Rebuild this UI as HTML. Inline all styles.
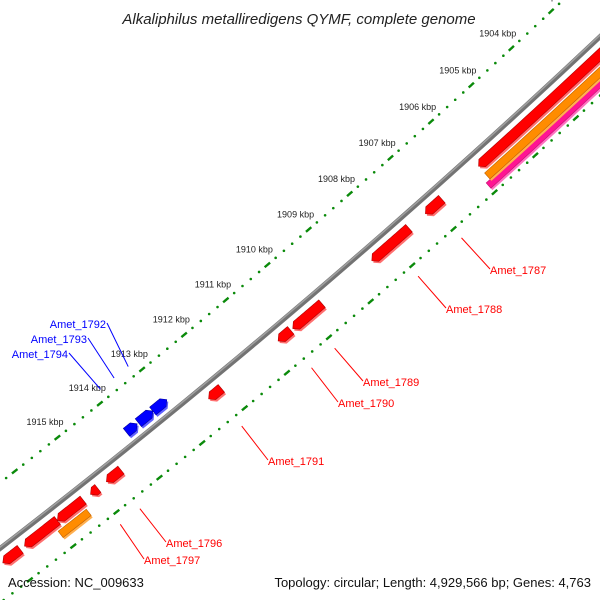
<!DOCTYPE html>
<html><head><meta charset="utf-8"><style>
html,body{margin:0;background:#fff;width:600px;height:600px;overflow:hidden}
svg{display:block;font-family:"Liberation Sans",sans-serif;overflow:hidden}
</style></head><body>
<svg id="map" width="600" height="600" viewBox="0 0 600 600" xmlns="http://www.w3.org/2000/svg">
<defs><clipPath id="frame"><rect x="0" y="0" width="600" height="600"/></clipPath></defs>
<rect x="0" y="0" width="600" height="600" fill="#fff"/>
<g id="layer" clip-path="url(#frame)"></g>
<text x="299" y="24" text-anchor="middle" font-size="15" font-style="italic" fill="#222">Alkaliphilus metalliredigens QYMF, complete genome</text>
<text x="8" y="587" font-size="13" fill="#111">Accession: NC_009633</text>
<text x="591" y="587" text-anchor="end" font-size="13" fill="#111">Topology: circular; Length: 4,929,566 bp; Genes: 4,763</text>
</svg>
<script>
// ---- data ----
const geneNames = ["Amet_1786","Amet_1787","Amet_1788","Amet_1789","Amet_1790","Amet_1791","Amet_1792","Amet_1793","Amet_1794","Amet_1796","Amet_1797","Amet_1798","Amet_1799","Amet_1800"];
const geneStart = [1902.0,1906.8,1907.6,1909.7,1910.45,1912.1,1913.0,1913.33,1913.7,1914.46,1915.0,1915.34,1915.94,1916.8];
const geneEnd   = [1905.9,1907.2,1908.5,1910.4,1910.75,1912.4,1913.33,1913.67,1913.95,1914.8,1915.17,1915.94,1916.7,1917.2];
const geneStrand = ["fwd","fwd","fwd","fwd","fwd","fwd","rev","rev","rev","fwd","fwd","fwd","fwd","fwd"];
const orfStart = [1902.0,1915.4];
const orfEnd   = [1905.9,1916.05];
const otherStart = [1902.0];
const otherEnd   = [1906.0];
const tickKbp = [1903,1904,1905,1906,1907,1908,1909,1910,1911,1912,1913,1914,1915];
const tickLabels = ["1903 kbp","1904 kbp","1905 kbp","1906 kbp","1907 kbp","1908 kbp","1909 kbp","1910 kbp","1911 kbp","1912 kbp","1913 kbp","1914 kbp","1915 kbp"];
const labelledGenes = ["Amet_1787","Amet_1788","Amet_1789","Amet_1790","Amet_1791","Amet_1796","Amet_1797","Amet_1792","Amet_1793","Amet_1794"];
// label text anchors (layout)
const labelAt = {"Amet_1787":[490,274,"start"],"Amet_1788":[446,313,"start"],"Amet_1789":[363,386,"start"],"Amet_1790":[338,407,"start"],"Amet_1791":[268,465,"start"],"Amet_1796":[166,547,"start"],"Amet_1797":[144,564,"start"],"Amet_1792":[106,328,"end"],"Amet_1793":[87,343,"end"],"Amet_1794":[68,358,"end"]};

// ---- axis functions ----
const CX=-4886, CY=-5786, R=8000;
function phi(k){return (51.54-(1915-k)*0.392)*Math.PI/180;}
function pt(k,v){const a=phi(k),r=R+v;return [CX+r*Math.cos(a),CY+r*Math.sin(a)];}
const NS="http://www.w3.org/2000/svg";
const layer=document.getElementById('layer');
function mk(tag,attrs,parent){const e=document.createElementNS(NS,tag);for(const k in attrs)e.setAttribute(k,attrs[k]);(parent||layer).appendChild(e);return e;}
function arcPath(k1,k2,v){let d="";const n=40;for(let i=0;i<=n;i++){const p=pt(k1+(k2-k1)*i/n,v);d+=(i?"L":"M")+p[0].toFixed(2)+","+p[1].toFixed(2);}return d;}
function shape(k1,k2,v,h,head){
  const hl=Math.min(0.09,(k2-k1)*0.6);let a=k1,b=k2;
  if(head==="hi")b=k2-hl; if(head==="lo")a=k1+hl;
  const pts=[];const n=20;
  for(let i=0;i<=n;i++)pts.push(pt(a+(b-a)*i/n,v-h));
  if(head==="hi")pts.push(pt(k2,v));
  for(let i=n;i>=0;i--)pts.push(pt(a+(b-a)*i/n,v+h));
  if(head==="lo")pts.push(pt(k1,v));
  return pts.map(p=>p[0].toFixed(2)+","+p[1].toFixed(2)).join(" ");
}
function drawFeature(k1,k2,v,h,head,main,light,dark,name){
  const g=mk('g',{});
  
  
  const s=shape(k1,k2,v,h,head);
  mk('polygon',{points:s,fill:light,transform:"translate(1.5,2)"},g);
  mk('polygon',{points:s,fill:main,stroke:dark,"stroke-width":"0.6"},g);
}

// ---- backbone ----
const bb=mk('path',{d:arcPath(1901,1918.5,0),stroke:"#737373","stroke-width":"5",fill:"none"});


mk('path',{d:arcPath(1901,1918.5,-1.2),stroke:"#a0a0a0","stroke-width":"1.5",fill:"none"});

// ---- tick rulers ----
[-52,43].forEach((v,ri)=>{
  const g=mk('g',{});
  
  
  for(let m=19010;m<=19190;m+=2){
    const k=m/10;
    if(m%10===0){
      mk('path',{d:arcPath(k-0.065,k+0.065,v),stroke:"#0a8a0a","stroke-width":"2.4",fill:"none"},g);
    } else {
      const p=pt(k,v);
      mk('circle',{cx:p[0],cy:p[1],r:"1.3",fill:"#0a8a0a"},g);
    }
  }
});
tickKbp.forEach((k,i)=>{
  const p=pt(k,-72);
  const t=mk('text',{x:p[0],y:p[1]+3,"text-anchor":"middle","font-size":"9",fill:"#222"});
  
  
  t.textContent=tickLabels[i];
});

// ---- features ----
otherStart.forEach((s,i)=>drawFeature(s,otherEnd[i],34,3.5,null,"#ff1493","#ff70c0","#c01070","other-feature-"+i));
orfStart.forEach((s,i)=>drawFeature(s,orfEnd[i],26,4,null,"#ff8c00","#ffb050","#c06000","orf-feature-"+i));
geneStart.forEach((s,i)=>{
  const fwd=geneStrand[i]==="fwd";
  if(fwd)drawFeature(s,geneEnd[i],13,5,"hi","#ff0000","#ff7070","#b00000","gene-"+geneNames[i]);
  else drawFeature(s,geneEnd[i],-13,5,"lo","#0000ff","#6060ff","#0000a0","gene-"+geneNames[i]);
});

// ---- gene labels ----
labelledGenes.forEach(nm=>{
  const i=geneNames.indexOf(nm);
  const fwd=geneStrand[i]==="fwd";
  const mid=(geneStart[i]+geneEnd[i])/2;
  const p=pt(mid,fwd?55:-63);
  const la=labelAt[nm];
  const col=fwd?"#ff0000":"#0000ff";
  const ex=la[2]==="start"?la[0]:la[0]+1, ey=la[1]-5;
  const ln=mk('line',{x1:p[0],y1:p[1],x2:ex,y2:ey,stroke:col,"stroke-width":"1"});
  
  
  const t=mk('text',{x:la[0],y:la[1],"text-anchor":la[2],"font-size":"11",fill:col});
  
  
  t.textContent=nm;
});
</script>
</body></html>
